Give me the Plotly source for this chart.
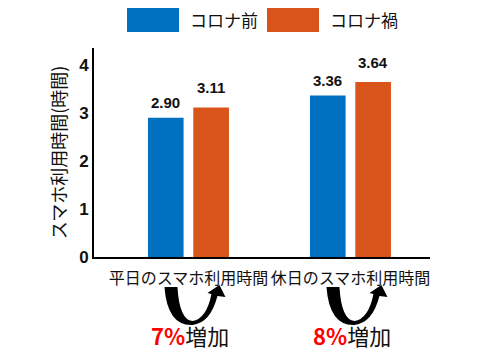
import plotly.graph_objects as go

categories = ["平日のスマホ利用時間", "休日のスマホ利用時間"]
series_names = ["コロナ前", "コロナ禍"]
before_values = [2.90, 3.36]
during_values = [3.11, 3.64]
increase_pct = ["7%", "8%"]
y_ticks = [0, 1, 2, 3, 4]

colors = ["#0070C0", "#D9541A"]
JP = "Noto Sans CJK JP, sans-serif"
NUM = "Liberation Sans, Arial, sans-serif"

# plot area geometry (pixels)
L, R, T, B = 94, 50, 48, 103
W, H = 480, 360
PW, PH = W - L - R, H - T - B
XMIN, XMAX = -0.583, 1.491
YMAX = 4.35

def px(x):
    return (x - L) / PW

def py(y):
    return (H - B - y) / PH

def data_to_px(xv):
    return L + (xv - XMIN) / (XMAX - XMIN) * PW

fig = go.Figure()
offsets = [-0.25, 0.03]
bw = 0.22
yshifts = [15, 20]
for s, (name, vals) in enumerate(zip(series_names, [before_values, during_values])):
    xs = list(range(len(categories)))
    fig.add_trace(go.Bar(
        x=xs, y=vals, name=name, width=bw, offset=offsets[s],
        marker=dict(color=colors[s], line=dict(width=0)),
        showlegend=False, hoverinfo="skip",
    ))
    for i, v in enumerate(vals):
        fig.add_annotation(
            x=i + offsets[s] + bw / 2, y=v, xref="x", yref="y",
            text=f"<b>{v:.2f}</b>", showarrow=False, yshift=yshifts[s],
            font=dict(family=NUM, size=15, color="#111"),
        )

shapes = []
# legend swatches
leg_x = [127, 267]
for s, name in enumerate(series_names):
    x0 = leg_x[s]
    shapes.append(dict(type="rect", xref="paper", yref="paper",
                       x0=px(x0), x1=px(x0 + 52), y0=py(32), y1=py(8),
                       fillcolor=colors[s], line=dict(width=0)))
    fig.add_annotation(xref="paper", yref="paper", x=px(x0 + 61), y=py(20),
                       xanchor="left", yanchor="middle", showarrow=False,
                       text=name, font=dict(family=JP, size=17, color="#111"))

# curved arrows and increase labels
for i, pct in enumerate(increase_pct):
    c = data_to_px(i) + 4  # bottom of U
    def P(dx, y):
        return f"{px(c + dx):.5f},{py(y):.5f}"
    path = (f"M {P(-28, 287)} Q {P(-25, 326)} {P(0, 325)} "
            f"Q {P(18, 323)} {P(25, 296)} L {P(33, 297)} L {P(27, 285)} "
            f"L {P(15, 293)} L {P(19, 294)} Q {P(14, 319)} {P(0, 321)} "
            f"Q {P(-13, 320)} {P(-15, 287)} Z")
    shapes.append(dict(type="path", xref="paper", yref="paper", path=path,
                       fillcolor="black", line=dict(width=0)))
    fig.add_annotation(xref="paper", yref="paper", x=px(c - 2), y=py(335),
                       xanchor="center", yanchor="middle", showarrow=False,
                       text=f"<span style='color:#FF0000'><b>{pct}</b></span>増加",
                       font=dict(family=JP, size=22, color="#111"))

fig.update_layout(
    width=W, height=H,
    margin=dict(l=L, r=R, t=T, b=B, pad=0, autoexpand=False),
    paper_bgcolor="white", plot_bgcolor="white",
    shapes=shapes,
    xaxis=dict(range=[XMIN, XMAX], tickvals=list(range(len(categories))),
               ticktext=categories, showgrid=False, zeroline=False,
               showline=True, linecolor="black", linewidth=2, automargin=False,
               ticklabelstandoff=6,
               ticks="", tickfont=dict(family=JP, size=16, color="#111")),
    yaxis=dict(range=[0, YMAX], tickvals=y_ticks, showgrid=False,
               zeroline=False, showline=True, linecolor="black", linewidth=2,
               automargin=False,
               ticks="", tickfont=dict(family=NUM, size=17, color="#111", weight="bold"),
               title=dict(text="スマホ利用時間(時間)", standoff=8,
                          font=dict(family=JP, size=18, color="#111"))),
)

fig.write_html("out.html", config={"displayModeBar": False},
               post_script="document.body.style.margin='0';")
